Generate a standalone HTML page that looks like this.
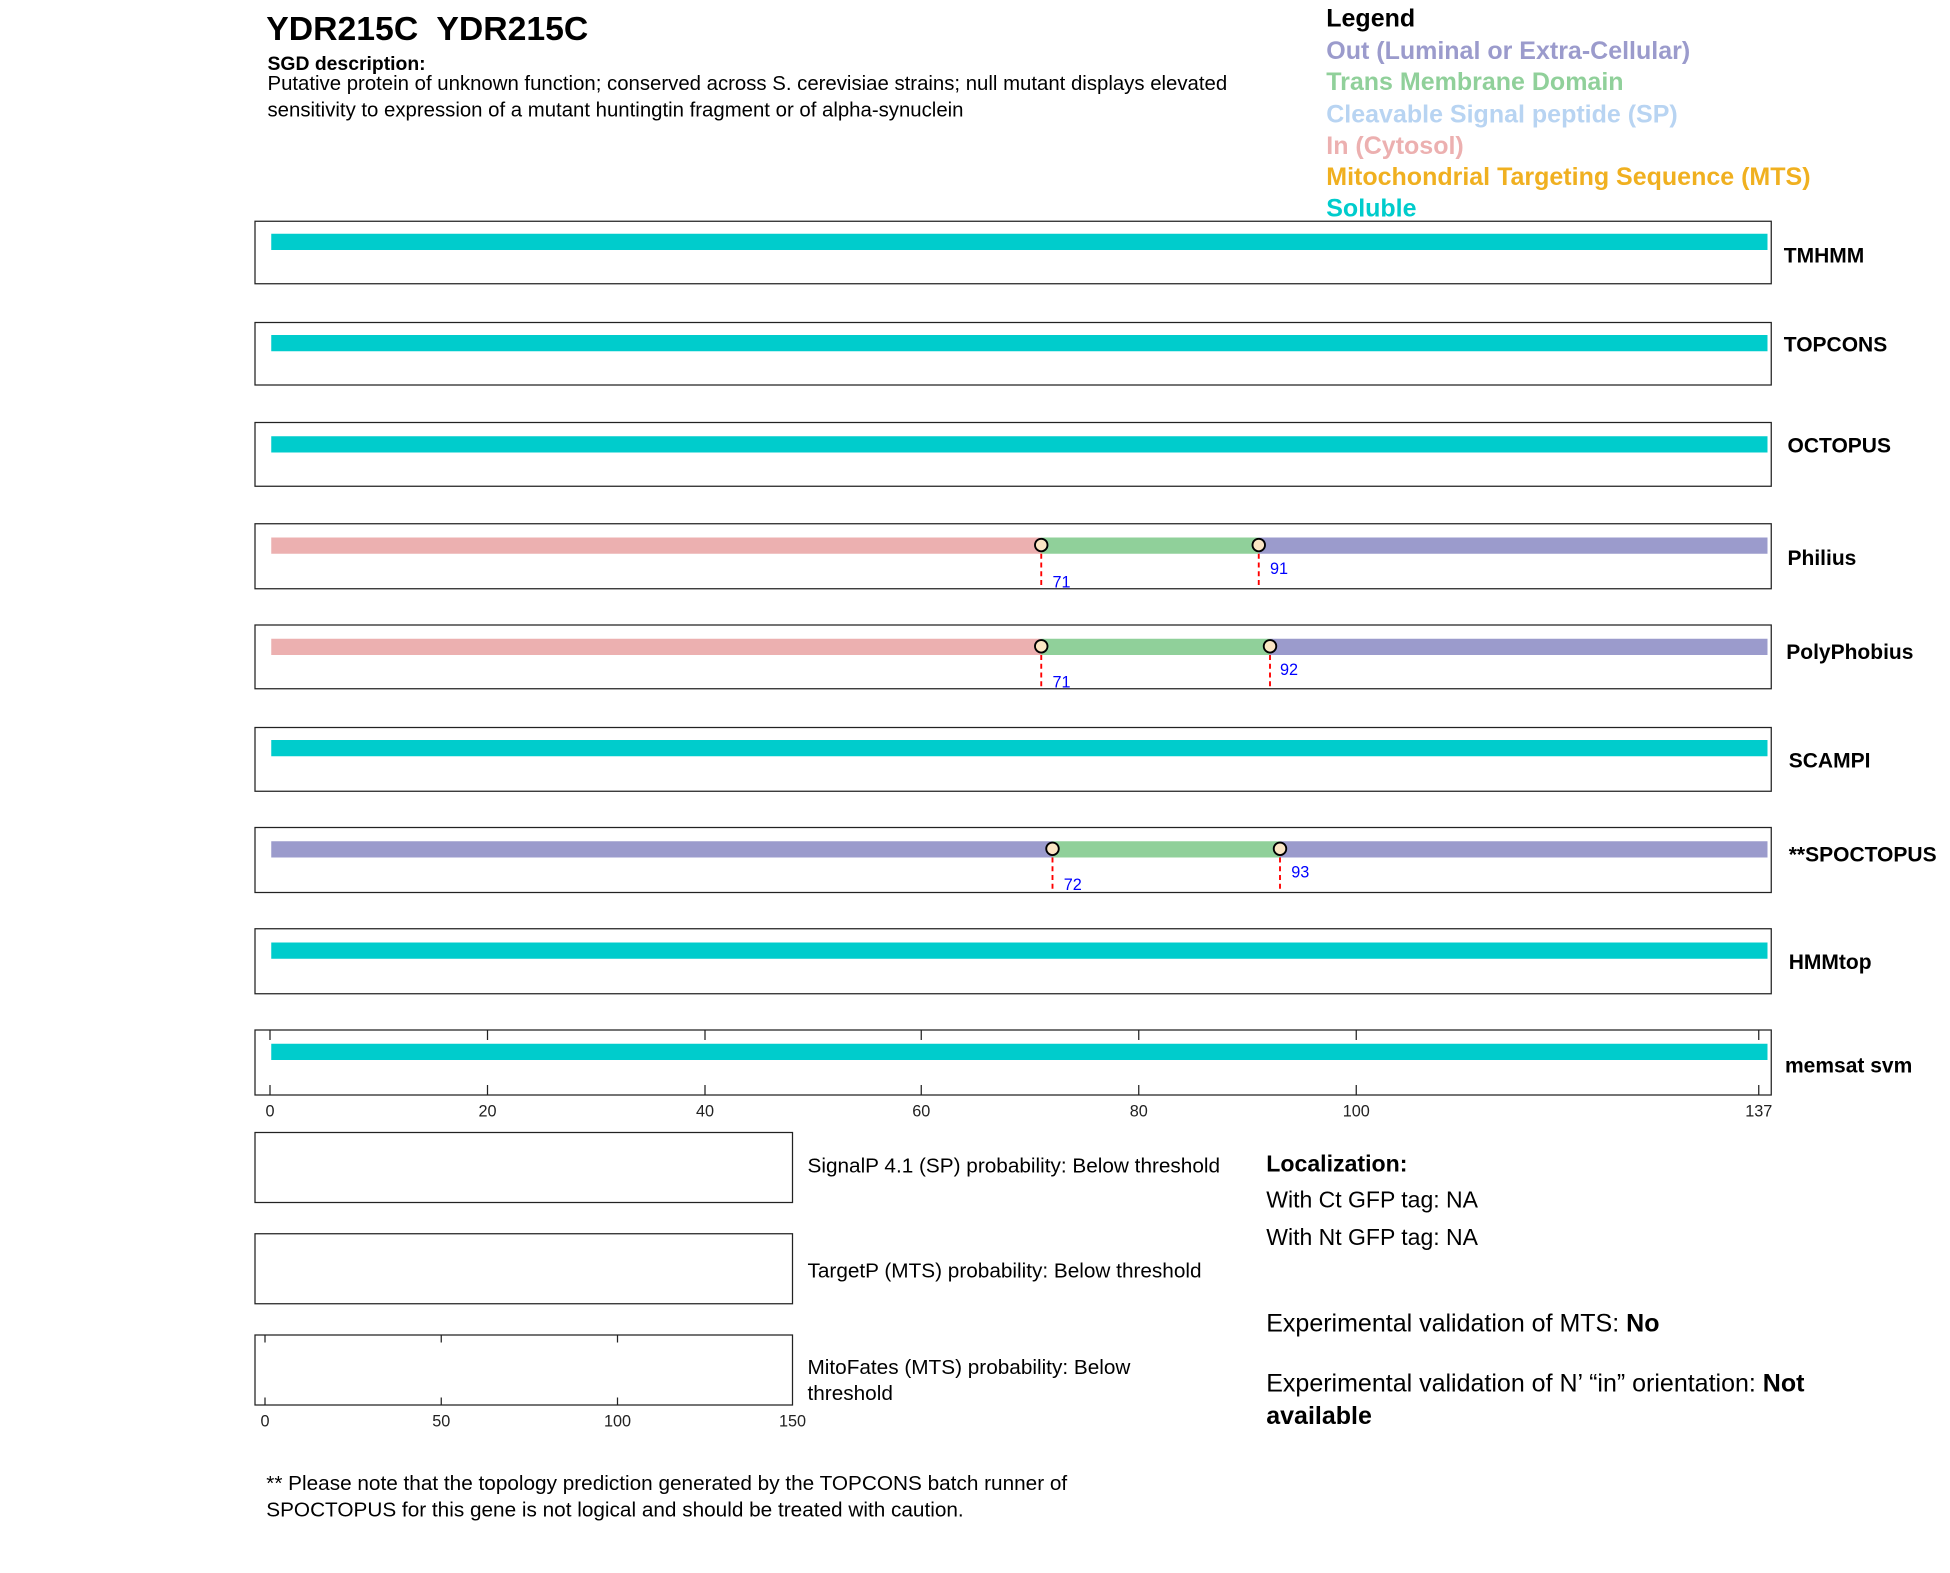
<!DOCTYPE html>
<html><head><meta charset="utf-8"><style>html,body{margin:0;padding:0;background:#fff}svg{display:block}text{font-family:"Liberation Sans",Arial,sans-serif}</style></head>
<body>
<svg width="1950" height="1573" viewBox="0 0 1560 1258.4" xmlns="http://www.w3.org/2000/svg">
<rect width="1560" height="1258.4" fill="#fff"/>
<text x="213" y="32" font-size="27" font-weight="bold" xml:space="preserve">YDR215C  YDR215C</text>
<text x="214" y="56" font-size="15.5" font-weight="bold">SGD description:</text>
<text x="214" y="72" font-size="16.3">Putative protein of unknown function; conserved across S. cerevisiae strains; null mutant displays elevated</text>
<text x="214" y="93" font-size="16.3">sensitivity to expression of a mutant huntingtin fragment or of alpha-synuclein</text>
<g font-size="20" font-weight="bold">
<text x="1061" y="21" fill="#000">Legend</text>
<text x="1061" y="47" fill="#9b9bcc">Out (Luminal or Extra-Cellular)</text>
<text x="1061" y="72" fill="#90d09a">Trans Membrane Domain</text>
<text x="1061" y="98" fill="#b8d4f2">Cleavable Signal peptide (SP)</text>
<text x="1061" y="123" fill="#ecb0b0">In (Cytosol)</text>
<text x="1061" y="148" fill="#f0b020">Mitochondrial Targeting Sequence (MTS)</text>
<text x="1061" y="173" fill="#00cccc">Soluble</text>
</g>
<g fill="none" stroke="#222" stroke-width="1">
<rect x="204" y="177" width="1213" height="50"/>
<rect x="204" y="258" width="1213" height="50"/>
<rect x="204" y="338" width="1213" height="51"/>
<rect x="204" y="419" width="1213" height="52"/>
<rect x="204" y="500" width="1213" height="51"/>
<rect x="204" y="582" width="1213" height="51"/>
<rect x="204" y="662" width="1213" height="52"/>
<rect x="204" y="743" width="1213" height="52"/>
<rect x="204" y="824" width="1213" height="52"/>
<rect x="204" y="906" width="430" height="56"/>
<rect x="204" y="987" width="430" height="56"/>
<rect x="204" y="1068" width="430" height="56"/>
</g>
<g fill="#00cccc">
<rect x="217" y="187" width="1197" height="13"/>
<rect x="217" y="268" width="1197" height="13"/>
<rect x="217" y="349" width="1197" height="13"/>
<rect x="217" y="592" width="1197" height="13"/>
<rect x="217" y="754" width="1197" height="13"/>
<rect x="217" y="835" width="1197" height="13"/>
</g>
<rect x="217" y="430" width="616" height="13" fill="#ecb0b0"/>
<rect x="833" y="430" width="174" height="13" fill="#90d09a"/>
<rect x="1007" y="430" width="407" height="13" fill="#9b9bcc"/>
<rect x="217" y="511" width="616" height="13" fill="#ecb0b0"/>
<rect x="833" y="511" width="183" height="13" fill="#90d09a"/>
<rect x="1016" y="511" width="398" height="13" fill="#9b9bcc"/>
<rect x="217" y="673" width="625" height="13" fill="#9b9bcc"/>
<rect x="842" y="673" width="182" height="13" fill="#90d09a"/>
<rect x="1024" y="673" width="390" height="13" fill="#9b9bcc"/>
<g stroke="#f00" stroke-width="1.5" stroke-dasharray="4,3">
<line x1="833" y1="436" x2="833" y2="471"/><line x1="1007" y1="436" x2="1007" y2="471"/>
<line x1="833" y1="517" x2="833" y2="551"/><line x1="1016" y1="517" x2="1016" y2="551"/>
<line x1="842" y1="679" x2="842" y2="714"/><line x1="1024" y1="679" x2="1024" y2="714"/>
</g>
<g fill="#fbe6c4" stroke="#000" stroke-width="1.5">
<circle cx="833" cy="436" r="5"/><circle cx="1007" cy="436" r="5"/>
<circle cx="833" cy="517" r="5"/><circle cx="1016" cy="517" r="5"/>
<circle cx="842" cy="679" r="5"/><circle cx="1024" cy="679" r="5"/>
</g>
<g fill="#00f" font-size="13">
<text x="842" y="470">71</text><text x="1016" y="459">91</text>
<text x="842" y="550">71</text><text x="1024" y="540">92</text>
<text x="851" y="712">72</text><text x="1033" y="702">93</text>
</g>
<g font-size="16.8" font-weight="bold">
<text x="1427" y="210">TMHMM</text>
<text x="1427" y="281">TOPCONS</text>
<text x="1430" y="362">OCTOPUS</text>
<text x="1430" y="452">Philius</text>
<text x="1429" y="527">PolyPhobius</text>
<text x="1431" y="614">SCAMPI</text>
<text x="1431" y="689">**SPOCTOPUS</text>
<text x="1431" y="775">HMMtop</text>
<text x="1428" y="858">memsat svm</text>
</g>
<g stroke="#222" stroke-width="1">
<line x1="216" y1="824" x2="216" y2="832"/><line x1="216" y1="876" x2="216" y2="868"/>
<line x1="390" y1="824" x2="390" y2="832"/><line x1="390" y1="876" x2="390" y2="868"/>
<line x1="564" y1="824" x2="564" y2="832"/><line x1="564" y1="876" x2="564" y2="868"/>
<line x1="737" y1="824" x2="737" y2="832"/><line x1="737" y1="876" x2="737" y2="868"/>
<line x1="911" y1="824" x2="911" y2="832"/><line x1="911" y1="876" x2="911" y2="868"/>
<line x1="1085" y1="824" x2="1085" y2="832"/><line x1="1085" y1="876" x2="1085" y2="868"/>
<line x1="1407" y1="824" x2="1407" y2="832"/><line x1="1407" y1="876" x2="1407" y2="868"/>
<line x1="212" y1="1068" x2="212" y2="1074"/><line x1="212" y1="1124" x2="212" y2="1118"/>
<line x1="353" y1="1068" x2="353" y2="1074"/><line x1="353" y1="1124" x2="353" y2="1118"/>
<line x1="494" y1="1068" x2="494" y2="1074"/><line x1="494" y1="1124" x2="494" y2="1118"/>
</g>
<g font-size="13" text-anchor="middle" fill="#222">
<text x="216" y="893">0</text><text x="390" y="893">20</text><text x="564" y="893">40</text><text x="737" y="893">60</text><text x="911" y="893">80</text><text x="1085" y="893">100</text><text x="1407" y="893">137</text>
<text x="212" y="1141">0</text><text x="353" y="1141">50</text><text x="494" y="1141">100</text><text x="634" y="1141">150</text>
</g>
<g font-size="16.6">
<text x="646" y="938">SignalP 4.1 (SP) probability: Below threshold</text>
<text x="646" y="1022">TargetP (MTS) probability: Below threshold</text>
<text x="646" y="1099">MitoFates (MTS) probability: Below</text>
<text x="646" y="1120">threshold</text>
<text x="213" y="1192">** Please note that the topology prediction generated by the TOPCONS batch runner of</text>
<text x="213" y="1213">SPOCTOPUS for this gene is not logical and should be treated with caution.</text>
</g>
<text x="1013" y="937" font-size="18.5" font-weight="bold">Localization:</text>
<text x="1013" y="966" font-size="18.4">With Ct GFP tag: NA</text>
<text x="1013" y="996" font-size="18.4">With Nt GFP tag: NA</text>
<text x="1013" y="1065" font-size="20">Experimental validation of MTS: <tspan font-weight="bold">No</tspan></text>
<text x="1013" y="1113" font-size="20">Experimental validation of N’ “in” orientation: <tspan font-weight="bold">Not</tspan></text>
<text x="1013" y="1139" font-size="20" font-weight="bold">available</text>
</svg>
</body></html>
